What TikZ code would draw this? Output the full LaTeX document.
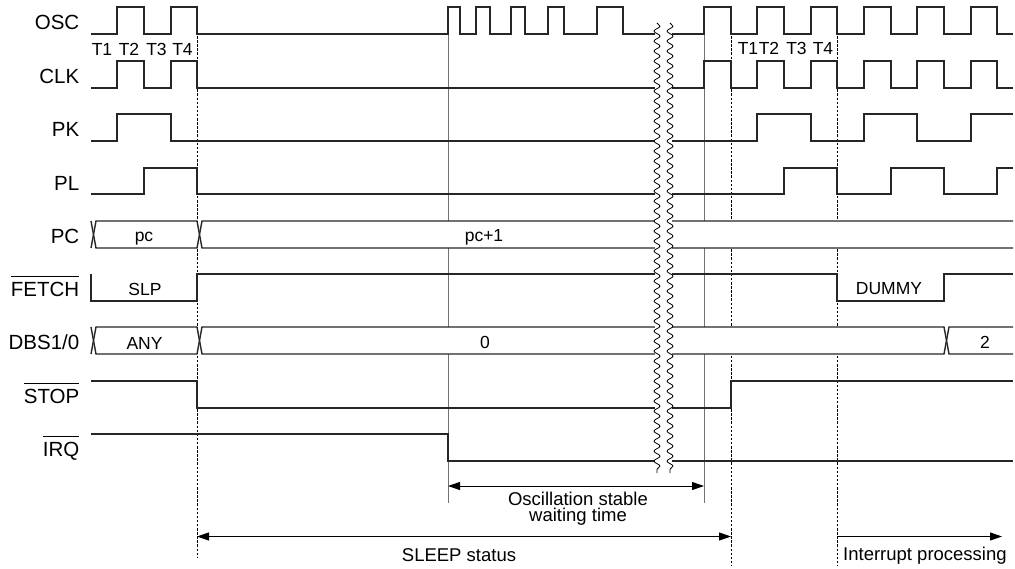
\documentclass[tikz,border=0pt]{standalone}
\usepackage{fontspec}
\setmainfont{Liberation Sans}
\usetikzlibrary{arrows.meta,decorations.pathmorphing}
\newcommand\myovl[1]{\vbox{\hrule height 0.9pt\kern5.2pt\hbox{#1}}}
\begin{document}
\begin{tikzpicture}[x=1pt,y=-1pt,
  sig/.style={line width=1.4pt,draw=black!85,line join=miter},
  guide/.style={line width=0.9pt,draw=black!55},
  dsh/.style={line width=0.8pt,draw=black,dash pattern=on 2.5pt off 1.6pt},
  lbl/.style={font=\fontsize{20.5}{24}\selectfont,anchor=base east,inner sep=0},
  tl/.style={font=\fontsize{17.5}{20}\selectfont,anchor=base,inner sep=0},
  bt/.style={font=\fontsize{17.5}{20}\selectfont,anchor=base,inner sep=0},
  note/.style={font=\fontsize{18.5}{20}\selectfont,inner sep=0},
  dimarr/.style={line width=1pt,draw=black,arrows={Triangle[length=12pt,width=8pt]-Triangle[length=12pt,width=8pt]}},
  onearr/.style={line width=1pt,draw=black,arrows={-Triangle[length=12pt,width=8pt]}},
  wave/.style={line width=0.8pt,draw=black,decorate,decoration={snake,segment length=10pt,amplitude=3pt}}
]
\useasboundingbox (0,0) rectangle (1015,568);

% guide lines
\draw[guide] (448,34) -- (448,503);
\draw[guide] (704,34) -- (704,503);
\draw[dsh] (197,36) -- (197,557);
\draw[dsh] (731,36) -- (731,565);
\draw[dsh] (837,36) -- (837,565);

% labels
\node[lbl] (lOSC) at (79.5,29.5) {OSC};
\node[lbl] (lCLK) at (79.5,83.5) {CLK};
\node[lbl] (lPK) at (79.5,136.5) {PK};
\node[lbl] (lPL) at (79.5,190.5) {PL};
\node[lbl] (lPC) at (79.5,243.5) {PC};
\node[lbl] (lFETCH) at (79.5,296.5) {\myovl{FETCH}};
\node[lbl] (lDBS) at (79.5,349.5) {DBS1/0};
\node[lbl] (lSTOP) at (79.5,403.5) {\myovl{STOP}};
\node[lbl] (lIRQ) at (79.5,456.5) {\myovl{IRQ}};

% T labels
\node[tl] (t1a) at (102,55) {T1};
\node[tl] (t2a) at (129,55) {T2};
\node[tl] (t3a) at (156.5,55) {T3};
\node[tl] (t4a) at (182.5,55) {T4};
\node[tl] (t1b) at (748,54.5) {T1};
\node[tl] (t2b) at (769,54.5) {T2};
\node[tl] (t3b) at (796.5,54.5) {T3};
\node[tl] (t4b) at (823,54.5) {T4};

% OSC
\draw[sig] (91,34) -| (117,7) -| (144,34) -| (171,7) -| (197,34) -| (448,7) -| (460,34) -| (476,7) -| (490,34) -| (511,7) -| (525,34) -| (548,7) -| (564,34) -| (597,7) -| (623,34) -| (704,7) -| (731,34) -| (757,7) -| (784,34) -| (811,7) -| (837,34) -| (864,7) -| (891,34) -| (917,7) -| (944,34) -| (971,7) -| (997,34) -- (1013,34);
% CLK
\draw[sig] (91,88) -| (117,61) -| (144,88) -| (171,61) -| (197,88) -| (704,61) -| (731,88) -| (757,61) -| (784,88) -| (811,61) -| (837,88) -| (864,61) -| (891,88) -| (917,61) -| (944,88) -| (971,61) -| (997,88) -- (1013,88);
% PK
\draw[sig] (91,141) -| (117,114) -| (171,141) -| (757,114) -| (811,141) -| (864,114) -| (917,141) -| (971,114) -- (1013,114);
% PL
\draw[sig] (91,194) -| (144,168) -| (197,194) -| (784,168) -| (837,194) -| (891,168) -| (944,194) -| (997,168) -- (1013,168);

% PC bus
\fill[white] (91,221) rectangle (1013,248);
\draw[sig] (91,221) -- (96,248) -- (197,248) -- (202,221) -- (1013,221);
\draw[sig] (91,248) -- (96,221) -- (197,221) -- (202,248) -- (1013,248);
\node[bt] (tpc) at (144,241.7) {pc};
\node[bt] (tpc1) at (484,241.7) {pc+1};

% FETCH
\draw[sig] (91,274) -- (91,301) -- (197,301) -- (197,274) -- (837,274) -- (837,301) -- (944,301) -- (944,274) -- (1013,274);
\node[bt] (tslp) at (145,295) {SLP};
\node[bt] (tdummy) at (889,294) {DUMMY};

% DBS bus
\fill[white] (91,327) rectangle (1013,354);
\draw[sig] (91,327) -- (96,354) -- (197,354) -- (202,327) -- (944,327) -- (949,354) -- (1013,354);
\draw[sig] (91,354) -- (96,327) -- (197,327) -- (202,354) -- (944,354) -- (949,327) -- (1013,327);
\node[bt] (tany) at (144.5,349) {ANY};
\node[bt] (tzero) at (485,348.5) {0};
\node[bt] (ttwo) at (985,348.5) {2};

% STOP
\draw[sig] (91,381) -| (197,408) -| (731,381) -- (1013,381);
% IRQ
\draw[sig] (91,434) -| (448,461) -- (1013,461);

% break
\fill[white] (655,20) rectangle (672,476);
\draw[wave] (657,23) -- (657,473);
\draw[wave] (670,23) -- (670,473);

% dimension arrows
\coordinate (osA) at (448,486);
\coordinate (osB) at (704,486);
\coordinate (slA) at (197,536.5);
\coordinate (slB) at (731,536.5);
\coordinate (ipA) at (837,536.5);
\coordinate (ipB) at (1002,536.5);
\draw[dimarr] (osA) -- (osB);
\draw[dimarr] (slA) -- (slB);
\draw[onearr] (ipA) -- (ipB);
\node[note,anchor=base] (tos1) at (578,505) {Oscillation stable};
\node[note,anchor=base] (tos2) at (578,521.7) {waiting time};
\node[note,anchor=base] (tsl) at (459,561) {SLEEP status};
\node[note,anchor=base west] (tip) at (843,560) {Interrupt processing};
\end{tikzpicture}
\end{document}
